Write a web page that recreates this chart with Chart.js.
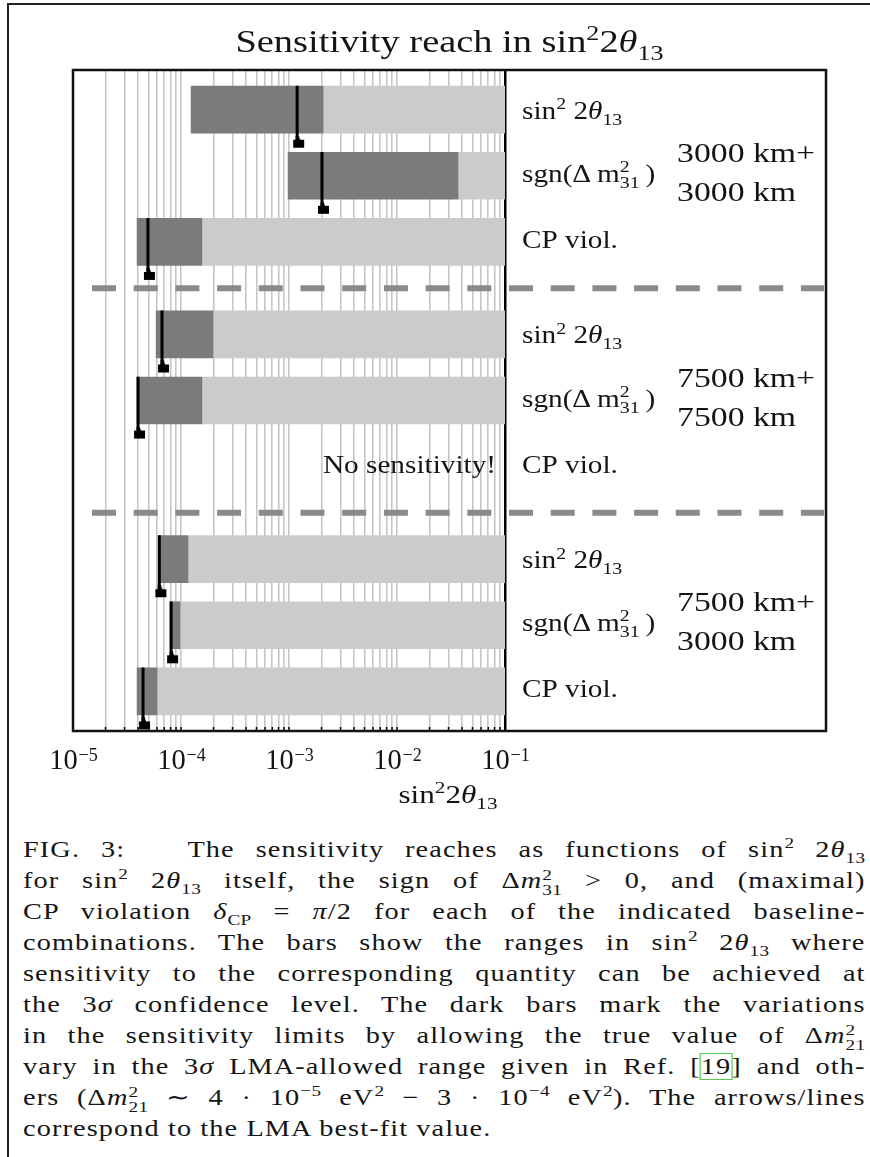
<!DOCTYPE html>
<html><head><meta charset="utf-8">
<script src="https://cdn.jsdelivr.net/npm/chart.js@4/dist/chart.umd.min.js"></script>
<style>
html,body{margin:0;padding:0;background:#fff;}
body{width:870px;height:1157px;position:relative;overflow:hidden;}
#wrap{position:absolute;left:0;top:0;width:870px;height:820px;}
#pgTop{position:absolute;left:7px;top:3px;width:863px;height:2px;background:#222;}
#pgLeft{position:absolute;left:7px;top:3px;width:2px;height:1154px;background:#222;}
#cap{position:absolute;left:23px;top:834px;width:685px;transform:scaleX(1.23);transform-origin:0 0;font-family:"Liberation Serif","Times New Roman",serif;font-size:23px;line-height:31px;color:#151515;letter-spacing:0.9px;}
#cap div{text-align:justify;text-align-last:justify;height:31px;overflow:visible;white-space:normal;}
#cap div.last{text-align-last:left;}
#cap sup,#cap sub{font-size:0.68em;line-height:0;letter-spacing:0.3px;}
#cap .ss{display:inline-block;vertical-align:-0.45em;line-height:0.95;font-size:0.68em;text-align:left;text-align-last:left;letter-spacing:0.3px;}
#cap .ss span{display:block;}
#cap .ref{outline:1.5px solid #5c5;outline-offset:0px;}
</style>
</head><body>
<div id="pgTop"></div><div id="pgLeft"></div>
<div id="wrap"><canvas id="c" width="870" height="820"></canvas></div>
<div id="cap">
<div>FIG. 3:&nbsp;&nbsp; The sensitivity reaches as functions of sin<sup>2</sup> 2<i>θ</i><sub>13</sub></div>
<div>for sin<sup>2</sup> 2<i>θ</i><sub>13</sub> itself, the sign of Δ<i>m</i><span class="ss"><span>2</span><span>31</span></span> &gt; 0, and (maximal)</div>
<div>CP violation <i>δ</i><sub>CP</sub> = <i>π</i>/2 for each of the indicated baseline-</div>
<div>combinations. The bars show the ranges in sin<sup>2</sup> 2<i>θ</i><sub>13</sub> where</div>
<div>sensitivity to the corresponding quantity can be achieved at</div>
<div>the 3<i>σ</i> confidence level. The dark bars mark the variations</div>
<div>in the sensitivity limits by allowing the true value of Δ<i>m</i><span class="ss"><span>2</span><span>21</span></span></div>
<div>vary in the 3<i>σ</i> LMA-allowed range given in Ref. [<span class="ref">19</span>] and oth-</div>
<div>ers (Δ<i>m</i><span class="ss"><span>2</span><span>21</span></span> ∼ 4 · 10<sup>−5</sup> eV<sup>2</sup> − 3 · 10<sup>−4</sup> eV<sup>2</sup>). The arrows/lines</div>
<div class="last">correspond to the LMA best-fit value.</div>
</div>
<script>
// ---------------- data ----------------
const rowNames   = ['sin2', 'sgn', 'CP', 'sin2', 'sgn', 'CP', 'sin2', 'sgn', 'CP'];
const groupTop    = ['3000 km+', '7500 km+', '7500 km+'];
const groupBottom = ['3000 km',  '7500 km',  '3000 km'];
// dark bars: variation of the sensitivity limit
const darkLow  = [1.24e-4, 9.8e-4, 3.92e-5, 5.88e-5, 3.92e-5, null, 6.25e-5, 7.9e-5, 3.92e-5];
const darkHigh = [2.07e-3, 3.67e-2, 1.56e-4, 1.98e-4, 1.56e-4, null, 1.16e-4, 9.8e-5, 6.0e-5];
// light bars reach up to
const reachHigh = [0.1, 0.1, 0.1, 0.1, 0.1, null, 0.1, 0.1, 0.1];
// LMA best-fit values (arrows/lines)
const bestFit  = [1.19e-3, 2.02e-3, 4.94e-5, 6.67e-5, 4.0e-5, null, 6.3e-5, 8.1e-5, 4.45e-5];
const noSensText = 'No sensitivity!';
const tickExponents = [-5, -4, -3, -2, -1];
const minorMultipliers = [1, 2, 3, 4, 5, 6, 7, 8, 9];

// ---------------- layout (not data) ----------------
const rowSlot = [0.6, 1.6, 2.6, 4.0, 5.0, 6.0, 7.4, 8.4, 9.4];
const separatorSlot = [3.3, 6.7];

const FAM = '"Liberation Serif","Times New Roman",serif';
const TXT = '#141414';

function drawRich(ctx, parts, x, y, size, sx, align) {
  const small = size * 0.68;
  const fontFor = k => (k === 'i' ? 'italic ' : '') + ((k === 'sup' || k === 'sub') ? small : size) + 'px ' + FAM;
  ctx.save();
  let w = 0; const items = [];
  for (const p of parts) {
    const t = p[0], k = p[1];
    if (k === 'ss') {
      ctx.font = small + 'px ' + FAM;
      const ww = Math.max(ctx.measureText(t[0]).width, ctx.measureText(t[1]).width);
      items.push({p, x: w}); w += ww;
    } else {
      ctx.font = fontFor(k);
      const ww = ctx.measureText(t).width;
      items.push({p, x: w}); w += ww;
    }
  }
  ctx.translate(x, y); ctx.scale(sx, 1);
  const x0 = align === 'center' ? -w / 2 : align === 'right' ? -w : 0;
  ctx.textBaseline = 'alphabetic'; ctx.textAlign = 'left'; ctx.fillStyle = TXT;
  for (const it of items) {
    const t = it.p[0], k = it.p[1];
    if (k === 'ss') {
      ctx.font = small + 'px ' + FAM;
      ctx.fillText(t[0], x0 + it.x, -size * 0.40);
      ctx.fillText(t[1], x0 + it.x, size * 0.24);
    } else {
      ctx.font = fontFor(k);
      const dy = k === 'sup' ? -size * 0.38 : k === 'sub' ? size * 0.24 : 0;
      ctx.fillText(t, x0 + it.x, dy);
    }
  }
  ctx.restore();
}

const richRow = {
  sin2: [['sin', 'n'], ['2', 'sup'], [' 2', 'n'], ['θ', 'i'], ['13', 'sub']],
  sgn:  [['sgn(Δ\u2009m', 'n'], [['2', '31'], 'ss'], ['\u2009)', 'n']],
  CP:   [['CP viol.', 'n']]
};
const rowBaseShift = {sin2: 9, sgn: 6, CP: 6};

// marker (arrow head) image
function makeMarker() {
  const c = document.createElement('canvas'); c.width = 24; c.height = 14;
  const g = c.getContext('2d'); g.fillStyle = '#000';
  g.beginPath();
  g.moveTo(10.5, 0); g.lineTo(13.5, 0); g.lineTo(15, 4); g.lineTo(19, 4);
  g.lineTo(19, 12); g.lineTo(8, 12); g.lineTo(8, 4); g.lineTo(10.5, 4);
  g.closePath(); g.fill();
  return c;
}
const marker = makeMarker();

// build datasets from arrays
const darkData = [], lightData = [], bfData = [];
rowSlot.forEach((s, i) => {
  if (darkLow[i] != null) darkData.push({y: s, x: [darkLow[i], darkHigh[i]]});
  if (reachHigh[i] != null) lightData.push({y: s, x: [darkHigh[i], reachHigh[i]]});
  if (bestFit[i] != null) {
    bfData.push({x: bestFit[i], y: s - 0.36});
    bfData.push({x: bestFit[i], y: s + 0.5});
  }
});
const gridValues = [];
tickExponents.forEach((e, j) => {
  minorMultipliers.forEach(m => {
    if (j === tickExponents.length - 1 && m > 1) return;
    gridValues.push(m * Math.pow(10, e));
  });
});

const overlay = {
  id: 'overlay',
  afterDraw(chart) {
    const ctx = chart.ctx, a = chart.chartArea;
    const xs = chart.scales.x, ys = chart.scales.y;
    const frameRight = a.right + 321;
    ctx.save();
    // dashed separators
    ctx.strokeStyle = '#8a8a8a'; ctx.lineWidth = 6; ctx.setLineDash([24, 17.7]);
    separatorSlot.forEach(s => {
      const py = ys.getPixelForValue(s);
      ctx.beginPath(); ctx.moveTo(a.left + 19, py); ctx.lineTo(frameRight - 2, py); ctx.stroke();
    });
    ctx.setLineDash([]);
    // bottom small ticks
    ctx.strokeStyle = '#000'; ctx.lineWidth = 1.5;
    gridValues.forEach(v => {
      const px = xs.getPixelForValue(v);
      ctx.beginPath(); ctx.moveTo(px, a.bottom); ctx.lineTo(px, a.bottom - 4); ctx.stroke();
    });
    // frame
    ctx.strokeStyle = '#111'; ctx.lineWidth = 2.5;
    ctx.strokeRect(a.left, a.top, frameRight - a.left, a.bottom - a.top);
    ctx.restore();

    // title
    drawRich(ctx, [['Sensitivity reach in sin', 'n'], ['2', 'sup'], ['2', 'n'], ['θ', 'i'], ['13', 'sub']],
      (a.left + frameRight) / 2, a.top - 18, 32, 1.2, 'center');
    // tick labels
    tickExponents.forEach(e => {
      const px = xs.getPixelForValue(Math.pow(10, e));
      ctx.save();
      ctx.font = '30px ' + FAM;
      const w1 = ctx.measureText('10').width;
      ctx.font = '19px ' + FAM;
      const sup = '\u2212' + Math.abs(e);
      const w2 = ctx.measureText(sup).width;
      const sx = 0.95;
      ctx.translate(px, a.bottom + 38); ctx.scale(sx, 1);
      const x0 = -(w1 + w2) / 2;
      ctx.fillStyle = TXT; ctx.textBaseline = 'alphabetic'; ctx.textAlign = 'left';
      ctx.font = '30px ' + FAM; ctx.fillText('10', x0, 0);
      ctx.font = '19px ' + FAM; ctx.fillText(sup, x0 + w1 + 1, -8);
      ctx.restore();
    });
    // axis title
    drawRich(ctx, [['sin', 'n'], ['2', 'sup'], ['2', 'n'], ['θ', 'i'], ['13', 'sub']],
      a.left + 375, a.bottom + 72, 26, 1.2, 'center');
    // row labels
    rowSlot.forEach((s, i) => {
      const py = ys.getPixelForValue(s);
      const k = rowNames[i];
      drawRich(ctx, richRow[k], a.right + 17, py + rowBaseShift[k], 25, 1.17, 'left');
      if (darkLow[i] == null) {
        drawRich(ctx, [[noSensText, 'n']], a.right - 9, py + 6, 25, 1.17, 'right');
      }
    });
    // group labels
    groupTop.forEach((g, j) => {
      const py = ys.getPixelForValue(rowSlot[j * 3 + 1]);
      drawRich(ctx, [[g, 'n']], a.right + 172, py - 14, 27, 1.25, 'left');
      drawRich(ctx, [[groupBottom[j], 'n']], a.right + 172, py + 25, 27, 1.25, 'left');
    });
  }
};

new Chart(document.getElementById('c'), {
  type: 'bar',
  data: {
    datasets: [
      {
        type: 'line', indexAxis: 'y', data: bfData, order: 0,
        borderColor: '#000', borderWidth: 3,
        segment: { borderColor: c => (c.p0DataIndex % 2 === 0 ? '#000' : 'rgba(0,0,0,0)') },
        pointStyle: marker,
        pointRadius: c => (c.dataIndex % 2 === 1 ? 7 : 0),
        pointHoverRadius: 0,
        clip: false, fill: false, tension: 0
      },
      { data: darkData, backgroundColor: '#7b7b7b', barThickness: 47, grouped: false, borderWidth: 0, order: 2 },
      { data: lightData, backgroundColor: '#cbcbcb', barThickness: 47, grouped: false, borderWidth: 0, order: 3 }
    ]
  },
  options: {
    indexAxis: 'y',
    responsive: false,
    animation: false,
    events: [],
    layout: { padding: { left: 73, right: 365, top: 70, bottom: 89 } },
    plugins: { legend: { display: false }, tooltip: { enabled: false }, title: { display: false } },
    scales: {
      x: {
        type: 'logarithmic', min: 1e-5, max: 1e-1,
        afterBuildTicks: s => { s.ticks = gridValues.map(v => ({ value: v })); },
        afterFit: s => { s.height = 0; },
        ticks: { display: false },
        border: { display: false },
        grid: {
          drawTicks: false,
          color: c => (c.tick && c.tick.value >= 0.099 ? '#000' : '#c6c6c6'),
          lineWidth: c => (c.tick && c.tick.value >= 0.099 ? 2.5 : 1.6)
        }
      },
      y: {
        type: 'linear', min: 0, max: 10, reverse: true, display: false, offset: false
      }
    }
  },
  plugins: [overlay]
});
</script>
</body></html>
